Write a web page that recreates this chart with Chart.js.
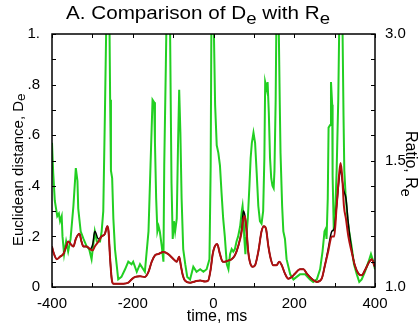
<!DOCTYPE html>
<html>
<head>
<meta charset="utf-8">
<script src="https://cdn.jsdelivr.net/npm/chart.js@4"></script>
<style>
  body { margin: 0; background: #fff; }
  canvas { display: block; }
</style>
</head>
<body>
<canvas id="chart" width="419" height="327"></canvas>
<script>
// tick labels
var xTickLabels = ['-400', '-200', '0', '200', '400'];
var yTickLabels = ['0', '.2', '.4', '.6', '.8', '1.'];
var rightTickLabels = ['1.0', '1.5', '3.0'];

// green trace, D_e (values above 1 run off the top of the box)
var greenT = [-400,-397,-393,-387,-383,-380,-376,-374,-370,-365,-360,-354,-347,-341,-337,-335,-329,-322,-314,-308,-302,-294,-289,-281,-277,-273,-269,-265,-258,-256,-254,-251,-248,-244,-240,-236,-228,-219,-211,-203,
  -199,-190,-182,-174,-170,-161,-156,-151,-147,-145,-142,-139,-136,-133,-128,-124,-122,-118,-116,-108,-106,-104,-101,-98,-95,-91,-88,-85,-82,-79,-75,-70,-65,-58,-50,-42,-33,-25,-17,-10,-7,-5,
  0,4,8,12,16,20,24,28,33,37,41,45,49,53,57,61,66,70,72,75,76,79,81,85,89,92,95,99,103,107,111,115,119,123,126,128,132,134,137,140,143,146,149,151,154,156,161,164,166,170,173,177,181,190,
  198,206,214,227,239,247,256,264,270,275,278,280,283,285,289,291,294,295,298,301,305,309,312,319,322,324,327,332,336,342,348,355,361,367,375,384,390,396,400];
var greenD = [0.57,0.45,0.34,0.28,0.29,0.26,0.28,0.2,0.13,0.18,0.14,0.19,0.32,0.47,0.42,0.31,0.22,0.19,0.16,0.15,0.11,0.22,0.18,0.18,0.22,0.3,0.68,1.1,1.1,0.74,0.46,0.43,0.27,0.15,0.09,0.03,0.04,0.07,0.1,0.09,
  0.1,0.06,0.09,0.07,0.06,0.22,0.48,0.74,0.73,0.57,0.35,0.22,0.24,0.22,0.16,0.1,0.48,0.88,1.1,1.1,0.74,0.41,0.19,0.26,0.22,0.27,0.55,0.78,0.61,0.35,0.15,0.09,0.04,0.03,0.08,0.06,0.07,0.06,0.07,0.11,0.48,1.1,
  1.1,0.72,0.56,0.53,0.48,0.37,0.27,0.2,0.09,0.07,0.13,0.15,0.14,0.15,0.18,0.2,0.24,0.3,0.32,0.26,0.2,0.13,0.19,0.27,0.4,0.51,0.57,0.61,0.57,0.45,0.32,0.26,0.25,0.3,0.51,0.81,0.78,0.81,0.69,0.51,0.43,0.4,0.39,0.46,0.74,1.1,1.1,0.74,0.53,0.32,0.22,0.19,0.11,0.05,
  0.03,0.04,0.05,0.05,0.03,0.02,0.03,0.07,0.14,0.22,0.23,0.19,0.35,0.63,0.64,0.81,0.72,0.44,0.22,0.27,0.46,0.74,1.1,1.1,0.68,0.46,0.37,0.27,0.22,0.16,0.09,0.05,0.02,0.03,0.06,0.1,0.13,0.1,0.07];

// red trace, R_e, read as height in the box (0 = 1.0, .5 = 1.5, 1 = 3.0)
var redT = [-400,-397,-388,-380,-372,-365,-360,-354,-347,-341,-332,-327,-322,-314,-306,-299,-294,-285,-277,-269,-263,-260,-256,-252,-248,-240,-223,-211,-203,-194,
  -182,-170,-161,-153,-145,-137,-124,-112,-99,-91,-85,-81,-76,-71,-58,-46,-33,-21,-13,-7,-2,3,9,16,23,28,37,45,53,61,
  70,74,78,82,86,90,97,103,111,119,125,130,136,142,148,156,163,169,177,185,194,202,214,223,231,243,256,268,276,284,
  293,299,305,312,315,319,323,328,334,342,350,359,367,375,386,392,398,400];
var redR = [0.16,0.14,0.11,0.12,0.13,0.16,0.18,0.17,0.16,0.19,0.21,0.18,0.16,0.16,0.15,0.145,0.16,0.18,0.2,0.21,0.24,0.22,0.11,0.03,0.013,0.013,0.013,0.017,0.03,0.04,
  0.042,0.04,0.06,0.1,0.125,0.13,0.138,0.13,0.11,0.1,0.12,0.086,0.046,0.026,0.017,0.022,0.026,0.022,0.026,0.07,0.13,0.16,0.17,0.13,0.1,0.1,0.105,0.11,0.125,0.16,
  0.22,0.27,0.28,0.22,0.14,0.1,0.08,0.086,0.14,0.22,0.24,0.23,0.16,0.11,0.086,0.086,0.1,0.086,0.053,0.033,0.04,0.053,0.07,0.07,0.053,0.033,0.02,0.033,0.086,0.14,
  0.2,0.2,0.32,0.46,0.49,0.43,0.32,0.27,0.2,0.14,0.086,0.053,0.046,0.066,0.1,0.11,0.086,0.08];

// black trace, mostly hidden under the red one
var blackR = [0.16,0.14,0.11,0.12,0.13,0.16,0.18,0.17,0.16,0.19,0.21,0.18,0.16,0.16,0.15,0.17,0.22,0.19,0.2,0.21,0.24,0.22,0.11,0.03,0.013,0.013,0.013,0.017,0.03,0.04,
  0.042,0.04,0.06,0.1,0.125,0.13,0.138,0.13,0.11,0.1,0.12,0.086,0.046,0.026,0.017,0.022,0.026,0.022,0.026,0.07,0.13,0.16,0.17,0.13,0.1,0.1,0.105,0.11,0.125,0.16,
  0.23,0.3,0.28,0.22,0.14,0.1,0.08,0.086,0.14,0.22,0.24,0.23,0.16,0.11,0.086,0.086,0.1,0.086,0.053,0.033,0.04,0.053,0.07,0.07,0.053,0.033,0.02,0.033,0.086,0.15,
  0.22,0.23,0.32,0.44,0.47,0.42,0.38,0.35,0.25,0.15,0.086,0.053,0.046,0.066,0.1,0.11,0.086,0.08];

var titleParts = [['A. Comparison of D', 0], ['e', 1], [' with R', 0], ['e', 1]];
var leftTitleParts = [['Euclidean distance, D', 0], ['e', 1]];
var rightTitleParts = [['Ratio, R', 0], ['e', 1]];
var xTitle = 'time, ms';

function pts(xs, ys) {
  var out = [];
  for (var i = 0; i < xs.length; i++) out.push({x: xs[i], y: ys[i]});
  return out;
}

var FONT = '"Liberation Sans", Arial, sans-serif';

// writes text with lowered "e" subscripts, starting at 0,0
function drawParts(ctx, parts, size, drop) {
  var x = 0;
  ctx.textAlign = 'left';
  ctx.textBaseline = 'alphabetic';
  parts.forEach(function (p) {
    var s = p[1] ? size * 0.9 : size;
    ctx.font = s + 'px ' + FONT;
    ctx.fillText(p[0], x, p[1] ? size * drop : 0);
    x += ctx.measureText(p[0]).width;
  });
}

// box, inward ticks and the titles
var frame = {
  id: 'frame',
  afterDraw: function (chart) {
    var ctx = chart.ctx, a = chart.chartArea, s = chart.scales;
    ctx.save();
    ctx.strokeStyle = '#000';
    ctx.lineWidth = 1.5;
    ctx.strokeRect(a.left, a.top, a.right - a.left, a.bottom - a.top);
    ctx.lineWidth = 1;
    ctx.beginPath();
    s.x.ticks.forEach(function (t) {
      var px = Math.round(s.x.getPixelForValue(t.value)) + 0.5;
      ctx.moveTo(px, a.bottom); ctx.lineTo(px, a.bottom - 4);
      ctx.moveTo(px, a.top); ctx.lineTo(px, a.top + 4);
    });
    s.y.ticks.forEach(function (t) {
      var py = Math.round(s.y.getPixelForValue(t.value)) + 0.5;
      ctx.moveTo(a.left, py); ctx.lineTo(a.left + 4, py);
    });
    s.y2.ticks.forEach(function (t) {
      var py = Math.round(s.y2.getPixelForValue(t.value)) + 0.5;
      ctx.moveTo(a.right, py); ctx.lineTo(a.right - 4, py);
    });
    ctx.stroke();

    ctx.fillStyle = '#000';
    ctx.save();
    ctx.translate(66, 18.5);
    ctx.scale(1.18, 1);
    drawParts(ctx, titleParts, 17.5, 0.3);
    ctx.restore();

    ctx.save();
    ctx.translate(23, 246);
    ctx.rotate(-Math.PI / 2);
    drawParts(ctx, leftTitleParts, 15, 0.15);
    ctx.restore();

    ctx.save();
    ctx.translate(406, 131);
    ctx.rotate(Math.PI / 2);
    drawParts(ctx, rightTitleParts, 16, 0.3);
    ctx.restore();

    ctx.font = '16px ' + FONT;
    ctx.textAlign = 'center';
    ctx.fillText(xTitle, 217, 321);
    ctx.restore();
  }
};

var ctx = document.getElementById('chart').getContext('2d');
var chart = new Chart(ctx, {
  type: 'line',
  data: {
    datasets: [
      {
        label: 'R_e',
        data: pts(redT, redR),
        borderColor: '#b01010',
        borderWidth: 2,
        pointRadius: 0,
        cubicInterpolationMode: 'monotone'
      },
      {
        label: 'black',
        data: pts(redT, blackR),
        borderColor: '#000',
        borderWidth: 1.5,
        pointRadius: 0,
        cubicInterpolationMode: 'monotone'
      },
      {
        label: 'D_e',
        data: pts(greenT, greenD),
        borderColor: '#22cf22',
        borderWidth: 2,
        pointRadius: 0,
        tension: 0
      }
    ]
  },
  options: {
    responsive: false,
    animation: false,
    devicePixelRatio: 1,
    layout: { padding: { top: 34, left: 0, right: 0, bottom: 0 } },
    plugins: { legend: { display: false }, tooltip: { enabled: false } },
    scales: {
      x: {
        type: 'linear', min: -400, max: 400,
        grid: { display: false }, border: { display: false },
        afterFit: function (s) { s.height = 40; },
        ticks: {
          stepSize: 100, autoSkip: false, maxRotation: 0, padding: 0,
          color: '#000', font: { family: FONT, size: 15 },
          callback: function (v, i) { return i % 2 === 0 ? xTickLabels[i / 2] : ''; }
        }
      },
      y: {
        position: 'left', min: 0, max: 1,
        grid: { display: false }, border: { display: false },
        afterFit: function (s) { s.width = 52; },
        ticks: {
          stepSize: 0.1, autoSkip: false, padding: 4,
          color: '#000', font: { family: FONT, size: 15 },
          callback: function (v, i) { return i % 2 === 0 ? yTickLabels[i / 2] : ''; }
        }
      },
      y2: {
        position: 'right', min: 0, max: 1,
        grid: { display: false }, border: { display: false },
        afterFit: function (s) { s.width = 44; },
        ticks: {
          stepSize: 0.1, autoSkip: false, padding: 2,
          color: '#000', font: { family: FONT, size: 15 },
          callback: function (v, i) { return i % 5 === 0 ? rightTickLabels[i / 5] : ''; }
        }
      }
    }
  },
  plugins: [frame]
});
</script>
</body>
</html>
